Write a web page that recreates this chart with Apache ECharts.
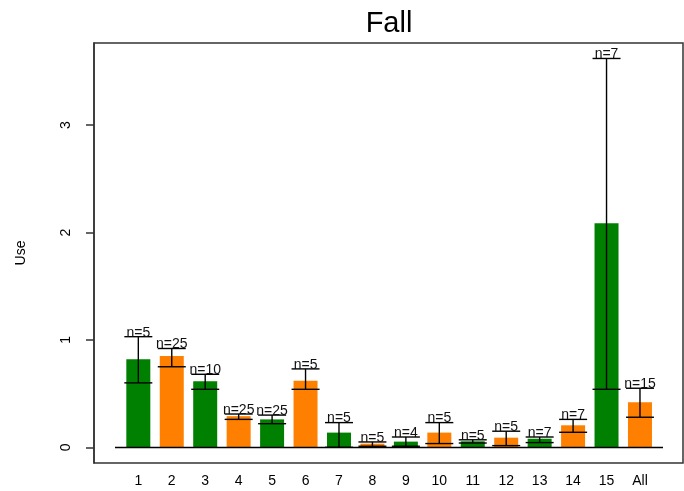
<!DOCTYPE html>
<html>
<head>
<meta charset="utf-8">
<script src="https://cdn.jsdelivr.net/npm/echarts@6/dist/echarts.min.js"></script>
<style>
    html, body { margin: 0; padding: 0; background: #fff; }
    #chart { width: 684px; height: 491px; }
</style>
</head>
<body>
<div id="chart"></div>
<script>
var categories = ['1', '2', '3', '4', '5', '6', '7', '8', '9', '10', '11', '12', '13', '14', '15', 'All'];
var means = [0.82, 0.85, 0.615, 0.29, 0.26, 0.62, 0.137, 0.034, 0.053, 0.137, 0.056, 0.09, 0.08, 0.205, 2.085, 0.42];
var upper = [1.03, 0.92, 0.68, 0.31, 0.30, 0.73, 0.23, 0.05, 0.096, 0.23, 0.07, 0.15, 0.096, 0.26, 3.62, 0.55];
var lower = [0.60, 0.75, 0.54, 0.26, 0.22, 0.54, 0.0, 0.01, 0.01, 0.035, 0.04, 0.016, 0.044, 0.14, 0.54, 0.28];
var nCounts = [5, 25, 10, 25, 25, 5, 5, 5, 4, 5, 5, 5, 7, 7, 7, 15];
var yTicks = [0, 1, 2, 3];

var GREEN = '#008000';
var ORANGE = '#ff8000';
var Y_MIN = -0.146;
var Y_MAX = 3.764;

var chart = echarts.init(document.getElementById('chart'));

// bars alternate green / orange
var barData = means.map(function (v, i) {
    return { value: v, itemStyle: { color: i % 2 === 0 ? GREEN : ORANGE } };
});

var errData = means.map(function (v, i) {
    return [i, lower[i], upper[i], nCounts[i]];
});

// whisker + caps, with the n= label sitting on the upper cap
function renderErr(params, api) {
    var x = api.value(0);
    var lo = api.coord([x, api.value(1)]);
    var hi = api.coord([x, api.value(2)]);
    var half = 14;
    var style = { stroke: '#000', lineWidth: 1.4 };
    return {
        type: 'group',
        children: [
            { type: 'line', shape: { x1: lo[0], y1: lo[1], x2: hi[0], y2: hi[1] }, style: style },
            { type: 'line', shape: { x1: hi[0] - half, y1: hi[1], x2: hi[0] + half, y2: hi[1] }, style: style },
            { type: 'line', shape: { x1: lo[0] - half, y1: lo[1], x2: lo[0] + half, y2: lo[1] }, style: style },
            {
                type: 'text',
                style: {
                    x: hi[0], y: hi[1] + 3,
                    text: 'n=' + api.value(3),
                    align: 'center', verticalAlign: 'bottom',
                    font: '14px Arial, "Liberation Sans", sans-serif',
                    fill: '#111'
                }
            }
        ]
    };
}

var option = {
    animation: false,
    backgroundColor: '#fff',
    textStyle: { fontFamily: 'Arial, "Liberation Sans", sans-serif' },
    title: {
        text: 'Fall',
        left: 384, top: 4,
        textAlign: 'center',
        textStyle: { fontSize: 29, fontWeight: 'normal', color: '#000' }
    },
    grid: [
        // outer box with the y axis
        { left: 94, right: 1, top: 43, bottom: 28, show: true, borderColor: '#333', borderWidth: 1.5, backgroundColor: 'transparent' },
        // inner area holding the bars
        { left: 121.6, right: 27.3, top: 43, bottom: 28 }
    ],
    xAxis: [
        { gridIndex: 0, type: 'value', show: false },
        {
            gridIndex: 1, type: 'category', data: categories,
            axisLine: { show: false }, axisTick: { show: false },
            axisLabel: { margin: 11, fontSize: 14, color: '#000' }
        }
    ],
    yAxis: [
        {
            gridIndex: 0, type: 'value', min: Y_MIN, max: Y_MAX,
            name: 'Use', nameLocation: 'middle', nameGap: 66, nameRotate: 90,
            nameTextStyle: { fontSize: 14, color: '#000' },
            axisLine: { show: true, lineStyle: { color: '#333', width: 1.5 } },
            axisTick: { show: true, length: 8, customValues: yTicks, lineStyle: { color: '#333', width: 1.5 } },
            axisLabel: { customValues: yTicks, rotate: 90, margin: 21, fontSize: 14, color: '#000' },
            splitLine: { show: false }
        },
        { gridIndex: 1, type: 'value', min: Y_MIN, max: Y_MAX, show: false }
    ],
    series: [
        {
            type: 'bar', xAxisIndex: 1, yAxisIndex: 1,
            barWidth: 24,
            data: barData,
            markLine: {
                silent: true, symbol: 'none', label: { show: false },
                lineStyle: { color: '#000', width: 1.4, type: 'solid' },
                data: [[{ x: 115, yAxis: 0 }, { x: 663, yAxis: 0 }]]
            }
        },
        {
            type: 'custom', xAxisIndex: 1, yAxisIndex: 1,
            renderItem: renderErr,
            data: errData,
            z: 10
        }
    ]
};

chart.setOption(option);
</script>
</body>
</html>
